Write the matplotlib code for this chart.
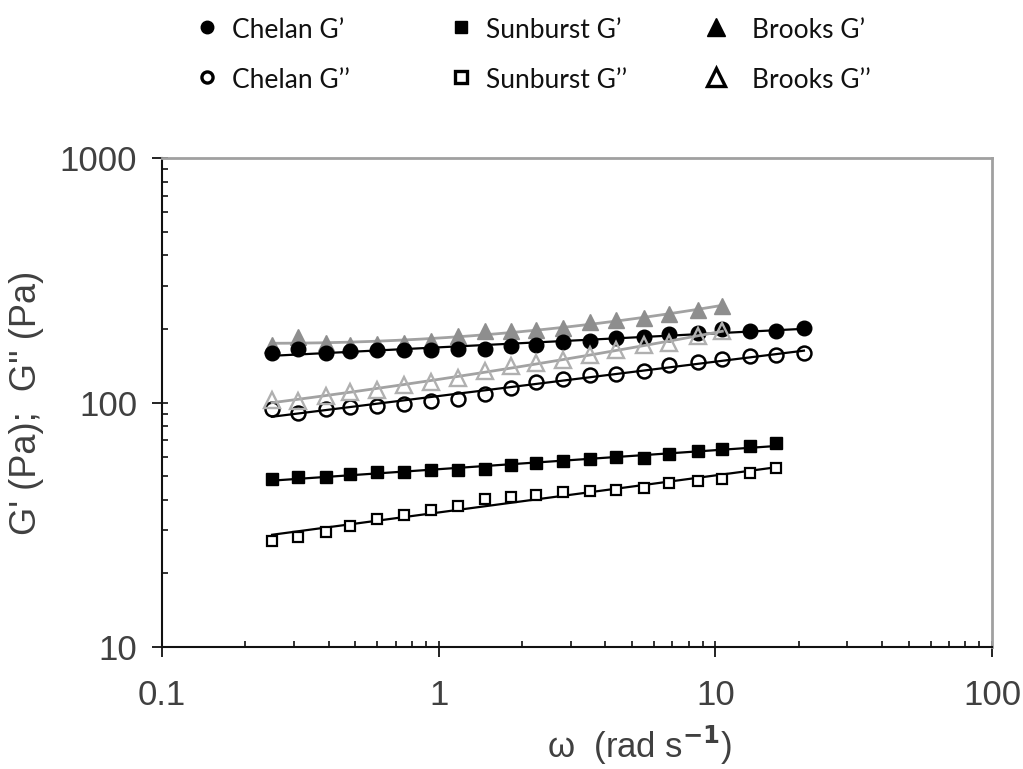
import numpy as np
import matplotlib
matplotlib.use("Agg")
import matplotlib.pyplot as plt
from matplotlib.lines import Line2D
from matplotlib.ticker import LogLocator, FuncFormatter, NullFormatter

# Angular frequency sweep (rad/s)
omega = [0.25, 0.31, 0.39, 0.48, 0.60, 0.75, 0.94, 1.17, 1.47, 1.82, 2.25,
         2.81, 3.51, 4.38, 5.51, 6.82, 8.63, 10.6, 13.3, 16.6, 20.9]

# Storage (G') and loss (G'') moduli, Pa
chelan_g1 = [160, 165, 159, 162, 164, 164, 164, 165, 166, 170, 172,
             176, 178, 184, 185, 190, 193, 199, 197, 197, 202]
chelan_g2 = [94, 91, 94, 96, 97, 99, 101, 103, 108, 115, 121,
             125, 130, 131, 134, 143, 147, 150, 155, 156, 160]
sunburst_g1 = [48.5, 49.7, 49.7, 50.8, 51.9, 51.9, 52.9, 52.9, 53.6, 55.3,
               56.7, 57.6, 58.9, 60.0, 59.4, 61.3, 63.3, 64.7, 66.3, 68.0]
sunburst_g2 = [27.2, 28.3, 29.4, 31.3, 33.5, 34.6, 36.3, 37.7, 40.4, 41.2,
               41.7, 43.0, 43.4, 43.8, 44.8, 47.0, 47.7, 48.5, 51.6, 54.1]
brooks_g1 = [172.5, 185.5, 175.2, 172.5, 174.1, 175.2, 177.9, 187.7, 195.4,
             195.4, 197.3, 201.8, 212.8, 216.8, 221.6, 230.9, 239.7, 247.3]
brooks_g2 = [102.8, 101.2, 106.1, 110.2, 113.0, 118.4, 121.0, 126.0, 134.1,
             140.5, 145.2, 149.8, 157.0, 164.6, 172.5, 175.2, 186.5, 195.4]

x_ticks = [0.1, 1, 10, 100]
y_ticks = [10, 100, 1000]
legend_labels = ["Chelan G\u2019", "Chelan G\u2019\u2019",
                 "Sunburst G\u2019", "Sunburst G\u2019\u2019",
                 "Brooks G\u2019", "Brooks G\u2019\u2019"]

NARROW = ["Liberation Sans Narrow", "Liberation Sans", "DejaVu Sans"]
plt.rcParams["mathtext.fontset"] = "custom"
plt.rcParams["mathtext.rm"] = "Liberation Sans Narrow"
plt.rcParams["mathtext.it"] = "Liberation Sans Narrow"
plt.rcParams["mathtext.bf"] = "Liberation Sans Narrow:bold"

W, H = 1023, 769
fig = plt.figure(figsize=(W / 100, H / 100), dpi=100)
ax = fig.add_axes([162 / W, 1 - 647 / H, 830 / W, 489 / H])
ax.set_xscale("log")
ax.set_yscale("log")
ax.set_xlim(0.1, 100)
ax.set_ylim(10, 1000)


def loglog_fit(x, y, deg):
    lx, ly = np.log10(np.asarray(x)), np.log10(np.asarray(y))
    coef = np.polyfit(lx, ly, deg)
    xs = np.logspace(lx.min(), lx.max(), 200)
    return xs, 10 ** np.polyval(coef, np.log10(xs))


n_c, n_s, n_b = len(chelan_g1), len(sunburst_g1), len(brooks_g1)
GRAY_FILL = "#8e8e8e"
GRAY_OPEN = "#b0b0b0"
GRAY_LINE = "#a2a2a2"

# Brooks storage modulus (under the Chelan points)
ax.plot(*loglog_fit(omega[:n_b], brooks_g1, 2), color=GRAY_LINE, lw=2.0, zorder=2)
ax.plot(omega[:n_b], brooks_g1, ls="none", marker="^", ms=11,
        mfc=GRAY_FILL, mec=GRAY_FILL, zorder=3)

# Chelan
ax.plot(*loglog_fit(omega[:n_c], chelan_g1, 1), color="black", lw=1.6, zorder=4)
ax.plot(omega[:n_c], chelan_g1, ls="none", marker="o", ms=10.5,
        mfc="black", mec="black", zorder=5)
ax.plot(*loglog_fit(omega[:n_c], chelan_g2, 1), color="black", lw=1.6, zorder=4)
ax.plot(omega[:n_c], chelan_g2, ls="none", marker="o", ms=10,
        mfc="none", mec="black", mew=1.8, zorder=5)

# Sunburst
ax.plot(*loglog_fit(omega[:n_s], sunburst_g1, 1), color="black", lw=1.6, zorder=4)
ax.plot(omega[:n_s], sunburst_g1, ls="none", marker="s", ms=8.5,
        mfc="black", mec="black", zorder=5)
ax.plot(*loglog_fit(omega[:n_s], sunburst_g2, 1), color="black", lw=1.6, zorder=4)
ax.plot(omega[:n_s], sunburst_g2, ls="none", marker="s", ms=7.5,
        mfc="white", mec="black", mew=1.6, zorder=5)

# Brooks loss modulus (drawn on top)
ax.plot(*loglog_fit(omega[:n_b], brooks_g2, 2), color=GRAY_LINE, lw=2.0, zorder=6)
ax.plot(omega[:n_b], brooks_g2, ls="none", marker="^", ms=11,
        mfc="none", mec=GRAY_OPEN, mew=1.7, zorder=7)

# Frame
for side in ("left", "bottom"):
    ax.spines[side].set_color("#111111")
    ax.spines[side].set_linewidth(1.5)
for side in ("top", "right"):
    ax.spines[side].set_color("#a0a0a0")
    ax.spines[side].set_linewidth(2.0)

# Ticks
ax.xaxis.set_minor_locator(LogLocator(base=10, subs=np.arange(1, 10), numticks=20))
ax.yaxis.set_minor_locator(LogLocator(base=10, subs=np.arange(1, 10), numticks=20))
ax.xaxis.remove_overlapping_locs = False
ax.yaxis.remove_overlapping_locs = False
ax.set_xticks(x_ticks)
ax.set_yticks(y_ticks)
ax.xaxis.set_major_formatter(FuncFormatter(lambda v, p: f"{v:g}"))
ax.yaxis.set_major_formatter(FuncFormatter(lambda v, p: f"{v:g}"))
ax.xaxis.set_minor_formatter(NullFormatter())
ax.yaxis.set_minor_formatter(NullFormatter())
ax.tick_params(which="major", direction="out", length=7, width=1.3,
               color="#111111", top=False, right=False)
ax.tick_params(which="minor", direction="in", length=4.5, width=1.2,
               color="#111111", top=False, right=False)
ax.tick_params(axis="x", which="major", pad=16)
ax.tick_params(axis="y", which="major", pad=11)
for lab in ax.get_xticklabels() + ax.get_yticklabels():
    lab.set_family(NARROW)
    lab.set_fontsize(25)
    lab.set_color("#404040")

# Axis titles
fig.text(640 / W, 1 - 745 / H, "\u03c9  (rad s$^{\\mathbf{-1}}$)",
         family=NARROW, fontsize=25, color="#404040", ha="center", va="center")
fig.text(27 / W, 1 - 403 / H, "G' (Pa);  G'' (Pa)", rotation=90,
         family=["Liberation Sans", "DejaVu Sans"], fontsize=26,
         color="#404040", ha="center", va="center")

# Key above the plot
key_styles = [
    dict(marker="o", ms=9, mfc="black", mec="black"),
    dict(marker="o", ms=8, mfc="white", mec="black", mew=2.4),
    dict(marker="s", ms=9, mfc="black", mec="black"),
    dict(marker="s", ms=8.5, mfc="white", mec="black", mew=2.4),
    dict(marker="^", ms=13, mfc="black", mec="black"),
    dict(marker="^", ms=13, mfc="white", mec="black", mew=2.4),
]
marker_x = [207, 207, 461, 461, 716, 716]
text_x = [232, 232, 486, 486, 752, 752]
row_y = [27, 77, 27, 77, 27, 77]
for lbl, st, mx, tx, ry in zip(legend_labels, key_styles, marker_x, text_x, row_y):
    fig.add_artist(Line2D([mx / W], [1 - ry / H], ls="none",
                          transform=fig.transFigure, **st))
    fig.text(tx / W, 1 - (ry + 11) / H, lbl, family=["Lato", "DejaVu Sans"],
             fontsize=19, color="#111111", ha="left", va="baseline")

fig.savefig("out.png", dpi=100)
